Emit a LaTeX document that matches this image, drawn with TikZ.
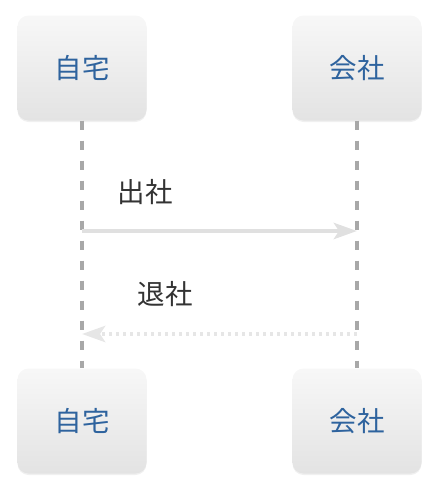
\documentclass[tikz,border=0pt]{standalone}
\usepackage{fontspec}
\setmainfont{Noto Sans CJK JP}
\usetikzlibrary{arrows.meta,shadows,positioning}
\definecolor{actortext}{HTML}{2E639E}
\definecolor{lifeline}{HTML}{A8A8A8}
\definecolor{msgline}{HTML}{E0E0E0}
\definecolor{msgtextc}{HTML}{333333}
\begin{document}
\begin{tikzpicture}[x=1pt, y=-1pt,
    actor/.style={rounded corners=11pt, minimum width=129pt, minimum height=105pt,
      top color=black!3, bottom color=black!11, text=actortext,
      font=\fontsize{27.5}{32}\selectfont,
      drop shadow={opacity=0.12, shadow xshift=0pt, shadow yshift=-1.5pt}},
    life/.style={draw=lifeline, line width=3.5pt, dash pattern=on 9pt off 11pt},
    msg/.style={draw=msgline, line width=4.5pt, -{Stealth[length=23pt, width=16pt, inset=5pt]}},
    msgtext/.style={text=msgtextc, font=\fontsize{27.5}{32}\selectfont}]
  \useasboundingbox (0,0) rectangle (436,488);
  \node (home) [actor] at (82,68) {自宅};
  \node (office) [actor] at (357,68) {会社};
  \node (homeEnd) [actor] at (82,421) {自宅};
  \node (officeEnd) [actor] at (357,421) {会社};
  \draw[life] (home) -- (homeEnd);
  \draw[life] (office) -- (officeEnd);
  \coordinate (goStart) at (home |- 0,231);
  \coordinate (goEnd) at (office |- 0,231);
  \coordinate (backStart) at (office |- 0,334);
  \coordinate (backEnd) at (home |- 0,334);
  \node (goText) [msgtext] at (145,192) {出社};
  \node (backText) [msgtext] at (165,294) {退社};
  \draw[msg] (goStart) -- (goEnd);
  \draw[msg, draw=msgline!80, dash pattern=on 3pt off 4pt] (backStart) -- (backEnd);
\end{tikzpicture}
\end{document}
